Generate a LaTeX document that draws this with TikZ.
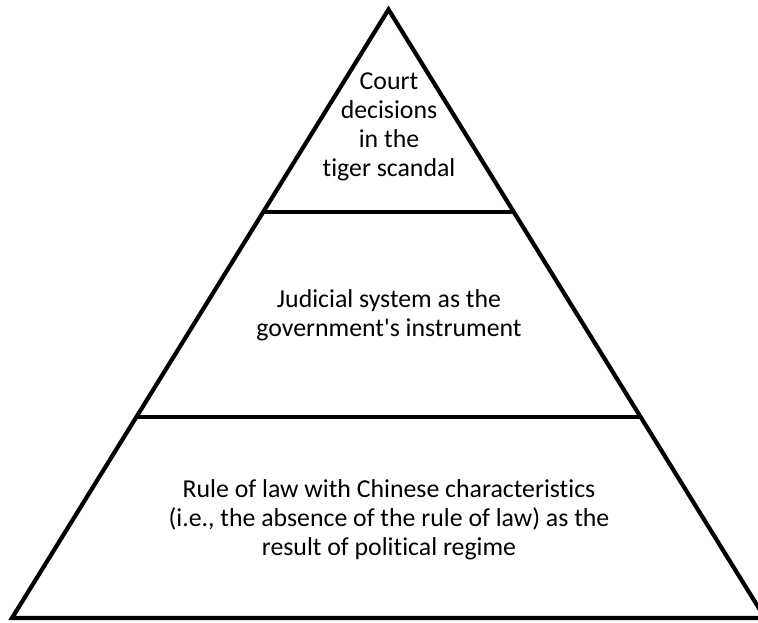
\documentclass[tikz,border=0pt]{standalone}
\usepackage{fontspec}
\setmainfont{Carlito}[Ligatures={NoCommon}]
\begin{document}
\begin{tikzpicture}[x=1pt,y=-1pt,
  edge/.style={line width=4.2pt,line join=miter},
  label/.style={align=center,inner sep=0pt,font=\fontsize{25.8}{29}\selectfont}]
\useasboundingbox (0,0) rectangle (758,622);
\clip (0,0) rectangle (758,622);
\coordinate (apex) at (388.5,9.5);
\coordinate (bl) at (12,618);
\coordinate (br) at (765,618);
\coordinate (l1) at (263.2,212);
\coordinate (r1) at (513.8,212);
\coordinate (l2) at (136.4,417);
\coordinate (r2) at (640.6,417);
\draw[edge] (apex) -- (br) -- (bl) -- cycle;
\draw[edge] (l1) -- (r1);
\draw[edge] (l2) -- (r2);
\node[label] (top) at (389,127) {Court\\decisions\\in the\\tiger scandal};
\node[label] (mid) at (389,315) {Judicial system as the\\government\textquotesingle s instrument};
\node[label] (bot) at (389,520) {Rule of law with Chinese characteristics\\(i.e., the absence of the rule of law) as the\\result of political regime};
\end{tikzpicture}
\end{document}
